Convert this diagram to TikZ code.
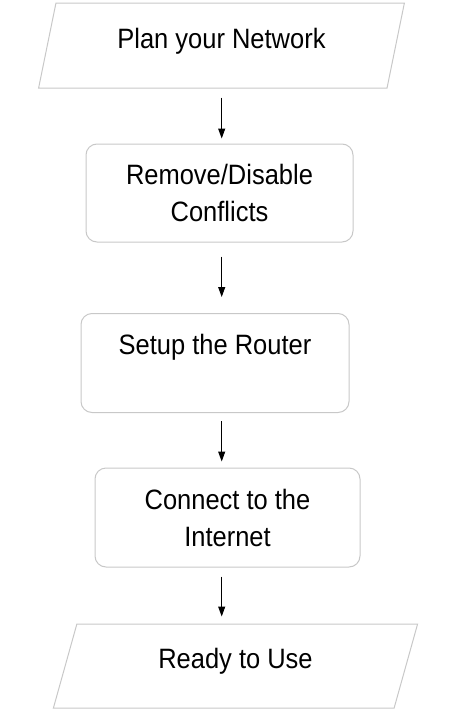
\documentclass[tikz,border=0pt]{standalone}
\usepackage{fontspec}
\setmainfont{Liberation Sans}[FakeStretch=0.91]
\usetikzlibrary{shapes.geometric,arrows.meta}
\definecolor{edgegray}{RGB}{200,200,200}
\begin{document}
\begin{tikzpicture}[x=1pt,y=-1pt,
  every node/.style={font=\fontsize{28}{37}\selectfont, inner sep=0pt},
  para/.style={draw=edgegray, line width=1pt, trapezium, trapezium left angle=72.4,
    trapezium right angle=107.6, trapezium stretches=true,
    minimum width=367pt, minimum height=85pt},
  rbox/.style={draw=edgegray, line width=1pt, rounded corners=11pt, align=center},
  arr/.style={-{Triangle[length=10pt,width=7pt]}, line width=1pt, black}
]
\useasboundingbox (0,0) rectangle (469,712);
\coordinate (ax) at (221.7,0);

\node[para, text height=20pt, text depth=14.4pt] (p1) at (221.5,45.5) {Plan your Network};
\node[rbox, minimum width=267pt, minimum height=98pt] (b2) at (219.5,193) {Remove/Disable\\Conflicts};
\node[rbox, minimum width=268pt, minimum height=99pt, text height=20pt, text depth=37pt] (b3) at (215,363) {Setup the Router};
\node[rbox, minimum width=265pt, minimum height=99pt] (b4) at (227.5,517.5) {Connect to the\\Internet};
\node[para, minimum width=365pt, minimum height=84pt, text height=20pt, text depth=16pt] (p5) at (235.5,666) {Ready to Use};

\draw[arr, shorten <=9pt, shorten >=5pt] (p1.south -| ax) -- (b2.north -| ax);
\draw[arr, shorten <=14pt, shorten >=16pt] (b2.south -| ax) -- (b3.north -| ax);
\draw[arr, shorten <=8pt, shorten >=6pt] (b3.south -| ax) -- (b4.north -| ax);
\draw[arr, shorten <=9pt, shorten >=7pt] (b4.south -| ax) -- (p5.north -| ax);
\end{tikzpicture}
\end{document}
